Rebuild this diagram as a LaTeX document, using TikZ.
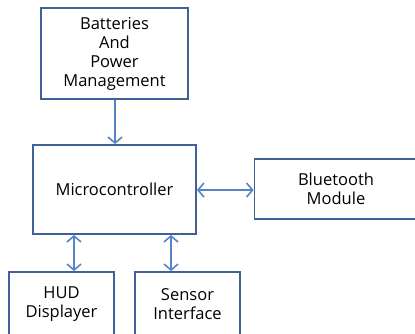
\documentclass[tikz,border=0pt]{standalone}
\usepackage{fontspec}
\setmainfont{Open Sans}
\usetikzlibrary{arrows.meta}
\definecolor{boxc}{HTML}{3F6198}
\definecolor{arrc}{HTML}{5585C2}
\begin{document}
\begin{tikzpicture}[x=1pt,y=-1pt,
  blk/.style={draw=boxc,line width=1.8pt,inner sep=0pt,align=center,font=\fontsize{16.5}{19}\selectfont,text=black},
  con/.style={draw=arrc,line width=1.6pt,arrows={Straight Barb[length=6pt,width=14pt,line width=1.6pt]-Straight Barb[length=6pt,width=14pt,line width=1.6pt]}},
  con1/.style={draw=arrc,line width=1.6pt,-{Straight Barb[length=6pt,width=14pt,line width=1.6pt]}}]
\useasboundingbox (0,0) rectangle (415,333);
\node[blk,minimum width=147pt,minimum height=91pt] (bat) at (114.5,53.5) {Batteries\\And\\Power\\Management};
\node[blk,minimum width=163pt,minimum height=89pt] (mcu) at (114.5,189.5) {Microcontroller};
\node[blk,minimum width=163pt,minimum height=60pt] (bt) at (336,189) {Bluetooth\\Module};
\node[blk,minimum width=105pt,minimum height=64pt] (hud) at (61.5,304) {HUD\\Displayer};
\node[blk,minimum width=105pt,minimum height=64pt] (sen) at (187.5,304) {Sensor\\Interface};
\draw[con1] (bat.south -| 115,0) -- (mcu.north -| 115,0);
\draw[con] (mcu.east |- 0,190) -- (bt.west |- 0,190);
\draw[con] (hud.north -| 74,0) -- (mcu.south -| 74,0);
\draw[con] (sen.north -| 171,0) -- (mcu.south -| 171,0);
\end{tikzpicture}
\end{document}
